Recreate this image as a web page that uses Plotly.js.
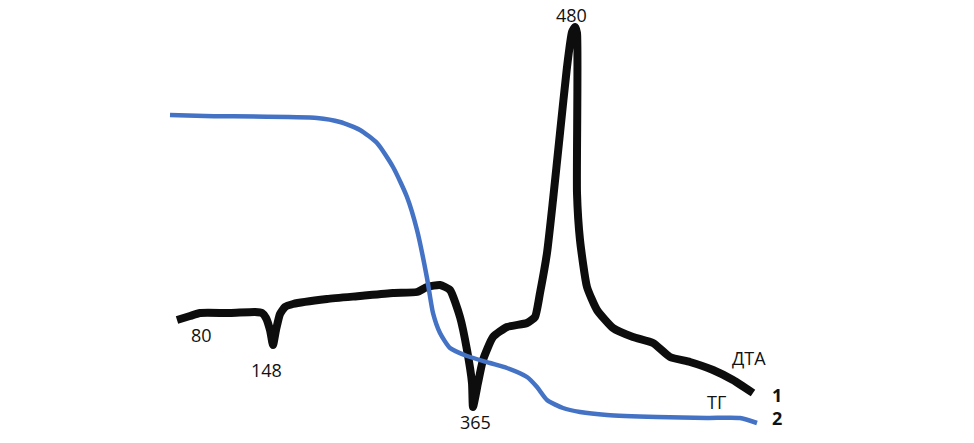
<!DOCTYPE html>
<html>
<head>
<meta charset="utf-8">
<script src="https://cdn.plot.ly/plotly-3.0.1.min.js"></script>
<style>html,body{margin:0;padding:0;background:#fff;}#chart{width:974px;height:443px;}</style>
</head>
<body>
<div id="chart"></div>
<script>
// DTA curve (1) - positions
var dtaX = [177,190,200,230,255,262,266,270,273,276,280,285,293,327,360,393,417,427,440,450,460,467,472,473,478,483,493,507,527,535,540,547,553,560,567,572,575,577,577,580,587,597,613,633,653,670,690,713,733,753];
var dtaY = [320,316,313,313,312,313,318,330,345,330,314,307,304,299,296,293,292,287,285,290,317,350,383,407,383,360,337,327,323,317,293,253,200,133,67,32,27,33,193,240,287,310,328,337,343,357,362,370,380,393];
// TG curve (2)
var tgX = [170,205,317,340,360,377,393,407,417,427,433,440,450,467,490,507,527,537,547,563,580,607,657,707,740,757];
var tgY = [115,116,118,122,130,143,167,197,230,278,313,333,348,356,363,368,377,387,400,408,412,415,417,418,418,423];
// annotation labels
var labelText = ['80','148','365','480','ДТА','ТГ','1','2'];
var labelX = [201,266,475,571,749,716,777,777];
var labelY = [335,370,422,15,358,402,395,418];
var labelBold = [false,false,false,false,false,false,true,true];

var traces = [
  {x: dtaX, y: dtaY, mode: 'lines', line: {color: '#0d0d0d', width: 8, shape: 'spline', smoothing: 0.5}, hoverinfo: 'skip'},
  {x: tgX, y: tgY, mode: 'lines', line: {color: '#4472C4', width: 4.5, shape: 'spline', smoothing: 0.6}, hoverinfo: 'skip'}
];

var annotations = labelText.map(function(t, i) {
  return {
    x: labelX[i], y: labelY[i], xref: 'x', yref: 'y',
    text: labelBold[i] ? '<b>' + t + '</b>' : t,
    showarrow: false,
    font: {family: 'Open Sans, sans-serif', size: 18, color: '#111111'},
    xanchor: 'center', yanchor: 'middle'
  };
});

var layout = {
  width: 974, height: 443,
  margin: {l: 0, r: 0, t: 0, b: 0},
  paper_bgcolor: '#ffffff', plot_bgcolor: '#ffffff',
  showlegend: false,
  xaxis: {range: [0, 974], visible: false, fixedrange: true},
  yaxis: {range: [443, 0], visible: false, fixedrange: true},
  annotations: annotations
};

Plotly.newPlot('chart', traces, layout, {displayModeBar: false, staticPlot: true});
</script>
</body>
</html>
